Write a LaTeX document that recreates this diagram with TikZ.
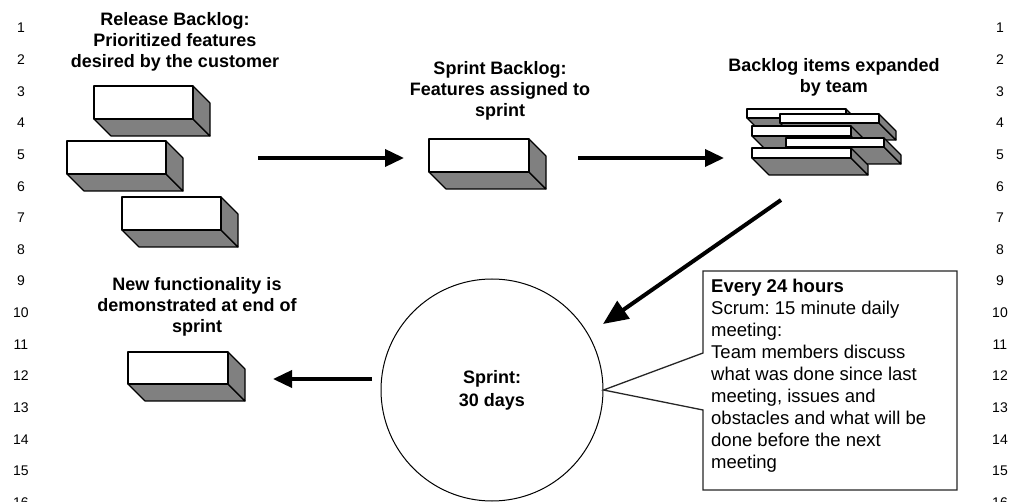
\documentclass[tikz,border=0pt]{standalone}
\usepackage{fontspec}
\setmainfont{Liberation Sans}
\usetikzlibrary{arrows.meta}
\frenchspacing
\tikzset{
  face/.style={fill=white,draw=black,line width=1.1pt,line join=round},
  sideface/.style={fill=black!50,draw=black,line width=1.1pt,line join=round},
  flow/.style={line width=3.6pt,-{Triangle[length=19pt,width=17pt]}},
  bigflow/.style={line width=4pt,-{Triangle[length=25pt,width=21pt]}},
  title/.style={font=\bfseries\fontsize{18}{21}\selectfont,align=center,inner sep=0pt,anchor=north},
  lnum/.style={font=\fontsize{14}{16}\selectfont,inner sep=0pt},
}
\newcommand\slab[4]{%
  \filldraw[sideface] (#1,#2) ++(0,#4) -- ++(#3,0) -- ++(17,17) -- ++(-#3,0) -- cycle;
  \filldraw[sideface] (#1,#2) ++(#3,0) -- ++(17,17) -- ++(0,#4) -- ++(-17,-17) -- cycle;
  \filldraw[face] (#1,#2) rectangle ++(#3,#4);
}
\begin{document}
\begin{tikzpicture}[x=1pt,y=-1pt]
\useasboundingbox (0,0) rectangle (1015,502);
% line numbers
\foreach \k in {1,...,16}{
  \node[lnum] (ln\k) at (21,{28+(\k-1)*31.64}) {\k};
  \node[lnum] (rn\k) at (1000,{28+(\k-1)*31.64}) {\k};
}
% titles
\node[title] (t1) at (175,12.5) {Release Backlog:\\Prioritized features\\desired by the customer};
\node[title] (t2) at (500,61.5) {Sprint Backlog:\\Features assigned to\\sprint};
\node[title] (t3) at (834,58.5) {Backlog items expanded\\by team};
\node[title] (t4) at (197,277.5) {New functionality is\\demonstrated at end of\\sprint};
% blocks
\slab{94}{86}{99}{33}
\slab{67}{141}{99}{33}
\slab{122}{197}{99}{33}
\slab{429}{139}{100}{33}
\slab{128}{352}{100}{32}
\slab{747}{109}{99}{9}
\slab{780}{114}{99}{9}
\slab{752}{126}{99}{10}
\slab{786}{138}{98}{9}
\slab{752}{148}{99}{10}
% sprint circle
\node[circle,draw=black,line width=1pt,minimum size=222pt,inner sep=0pt,
      font=\bfseries\fontsize{18}{23}\selectfont,align=center] (sprint) at (492,390) {Sprint:\\30 days};
% callout
\filldraw[fill=white,draw=black!85,line width=1.3pt,line join=miter]
  (703,353) -- (703,271) -- (957,271) -- (957,490) -- (703,490) -- (703,410) -- (sprint.east) -- cycle;
\node[anchor=north west,inner sep=0pt,align=left,font=\fontsize{18.5}{22}\selectfont] (callout) at (711,278.5)
  {\textbf{Every 24 hours}\\Scrum: 15 minute daily\\meeting:\\Team members discuss\\what was done since last\\meeting, issues and\\obstacles and what will be\\done before the next\\meeting};
% arrows
\coordinate (a1s) at (258,158); \coordinate (a1e) at (404,158);
\coordinate (a2s) at (578,158); \coordinate (a2e) at (724,158);
\coordinate (a3s) at (781,200); \coordinate (a3e) at (603,324);
\coordinate (a4s) at (372,379); \coordinate (a4e) at (273,379);
\draw[flow] (a1s) -- (a1e);
\draw[flow] (a2s) -- (a2e);
\draw[bigflow] (a3s) -- (a3e);
\draw[flow] (a4s) -- (a4e);
\end{tikzpicture}
\end{document}
